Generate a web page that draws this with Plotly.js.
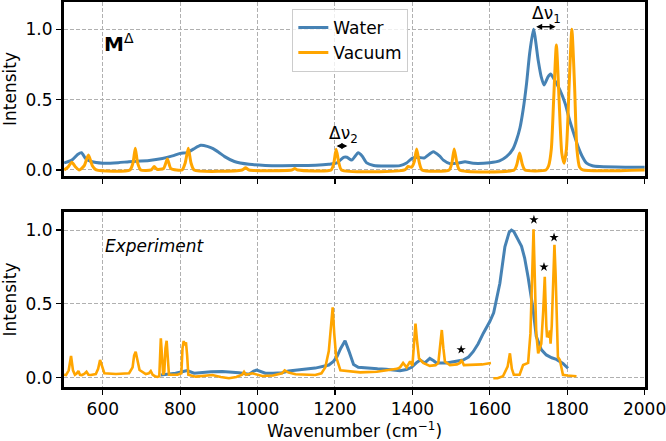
<!DOCTYPE html>
<html>
<head>
<meta charset="utf-8">
<script src="https://cdn.plot.ly/plotly-3.0.1.min.js"></script>
<style>html,body{margin:0;padding:0;background:#fff;}#chart{width:666px;height:441px;}</style>
</head>
<body>
<div id="chart"></div>
<script>
// ---- Top panel (M^Δ simulation) ----
const topWaterX = [500,520,535,545,556,570,600,640,668,720,754,780,800,818,835,853,870,885,900,915,940,978,1020,1098,1150,1184,1205,1222,1231,1243,1260,1270,1282,1300,1330,1368,1385,1400,1415,1430,1454,1470,1480,1497,1520,1536,1557,1600,1625,1643,1660,1669,1678,1686,1695,1703,1713,1725,1733,1740,1750,1757,1765,1781,1795,1806,1818,1828,1840,1850,1865,1884,1950,2000];
const topWaterY = [0.05,0.07,0.11,0.123,0.08,0.06,0.048,0.052,0.059,0.068,0.082,0.1,0.118,0.123,0.15,0.175,0.168,0.152,0.125,0.095,0.06,0.04,0.032,0.031,0.033,0.04,0.05,0.09,0.09,0.07,0.123,0.1,0.05,0.032,0.028,0.031,0.05,0.085,0.09,0.085,0.13,0.1,0.07,0.045,0.05,0.058,0.048,0.052,0.065,0.095,0.15,0.213,0.3,0.426,0.616,0.83,1.0,0.78,0.66,0.604,0.66,0.682,0.65,0.57,0.47,0.355,0.25,0.166,0.09,0.048,0.03,0.024,0.02,0.02];

const topVacX = [500,510,520,530,539,552,563,573,583,670,678,684,690,698,725,733,740,757,767,776,805,813,821,828,836,960,969,978,1088,1096,1104,1190,1197,1203,1210,1217,1380,1389,1398,1405,1411,1418,1425,1495,1502,1508,1515,1522,1663,1670,1677,1684,1691,1745,1752,1759,1765,1772,1779,1786,1792,1798,1805,1812,1819,1825,1832,1840,2000];
const topVacY = [0.0,0.02,0.055,0.02,0.0,0.03,0.107,0.03,0.0,0.0,0.05,0.154,0.05,0.0,0.0,0.024,0.005,0.01,0.078,0.01,0.0,0.05,0.154,0.05,0.0,0.0,0.015,0.0,0.0,0.01,0.0,0.0,0.05,0.147,0.05,0.0,0.0,0.025,0.02,0.06,0.149,0.05,0.0,0.0,0.05,0.149,0.05,0.0,0.0,0.04,0.12,0.04,0.0,0.0,0.03,0.15,0.5,0.888,0.5,0.12,0.048,0.15,0.6,1.0,0.6,0.15,0.02,0.0,0.0];

// ---- Bottom panel (Experiment) ----
const expWaterX = [750,771,788,805,818,836,857,880,909,930,952,978,990,998,1010,1020,1040,1063,1080,1098,1120,1149,1170,1184,1196,1205,1215,1226,1236,1248,1260,1282,1310,1332,1368,1385,1398,1410,1420,1432,1445,1455,1462,1488,1510,1531,1545,1557,1570,1583,1600,1610,1626,1639,1650,1656,1662,1669,1682,1690,1699,1712,1720,1733,1746,1760,1772,1789,1802];
const expWaterY = [0.018,0.023,0.03,0.04,0.048,0.03,0.036,0.04,0.042,0.04,0.034,0.023,0.045,0.052,0.04,0.03,0.03,0.034,0.045,0.052,0.058,0.065,0.075,0.086,0.11,0.142,0.2,0.25,0.18,0.09,0.07,0.064,0.06,0.057,0.047,0.055,0.07,0.1,0.12,0.1,0.131,0.115,0.1,0.1,0.108,0.12,0.14,0.176,0.23,0.3,0.38,0.44,0.64,0.887,0.985,1.0,0.99,0.955,0.89,0.81,0.68,0.46,0.28,0.19,0.154,0.135,0.124,0.097,0.064];

const expVacX = [500,505,512,518,523,528,533,537,541,546,552,558,563,569,582,588,593,598,604,634,668,677,681,685,689,695,711,719,724,729,735,741,746,748,750,753,756,759,762,765,768,771,793,803,806,809,812,815,818,821,840,860,883,905,926,945,960,965,970,986,1000,1012,1040,1063,1070,1080,1098,1120,1149,1165,1175,1184,1190,1194,1198,1203,1214,1244,1265,1308,1342,1360,1368,1376,1385,1394,1400,1404,1408,1412,1417,1428,1445,1460,1467,1471,1476,1480,1484,1497,1515,1523,1527,1533,1557,1580,1603,null,1609,1620,1634,1646,1652,1657,1662,1677,1686,1699,1705,1709,1713,1717,1720,1725,1730,1733,1738,1742,1746,1748,1750,1753,1755,1757,1760,1764,1767,1770,1772,1776,1781,1785,1789,1800,1824];
const expVacY = [0.02,0.018,0.05,0.147,0.05,0.02,0.03,0.045,0.02,0.018,0.025,0.04,0.02,0.018,0.025,0.06,0.12,0.07,0.03,0.025,0.03,0.07,0.15,0.176,0.12,0.052,0.025,0.03,0.045,0.02,0.01,0.005,0.01,0.2,0.267,0.15,0.02,0.04,0.2,0.25,0.15,0.02,0.02,0.03,0.2,0.248,0.22,0.24,0.15,0.02,0.007,0.012,0.018,0.005,-0.004,0.005,0.02,0.04,0.02,0.03,0.02,0.012,0.015,0.03,0.05,0.035,0.023,0.02,0.018,0.03,0.07,0.18,0.35,0.477,0.3,0.14,0.05,0.04,0.036,0.04,0.052,0.06,0.07,0.1,0.07,0.11,0.08,0.2,0.366,0.25,0.13,0.1,0.08,0.085,0.1,0.2,0.323,0.2,0.11,0.085,0.09,0.1,0.12,0.085,0.085,0.09,0.1,null,-0.004,-0.004,0.01,0.075,0.165,0.06,0.02,0.02,0.086,0.1,0.3,0.7,1.005,0.6,0.3,0.165,0.2,0.23,0.45,0.684,0.35,0.273,0.306,0.27,0.32,0.23,0.35,0.7,0.9,0.7,0.52,0.14,0.12,0.06,0.02,0.015,0.01];

const starX = [1526,1714,1740,1766];
const starY = [0.19,1.07,0.75,0.95];

const seriesNames = ['Water','Vacuum'];
const xTickVals = [600,800,1000,1200,1400,1600,1800,2000];
const yTickVals = [0,0.5,1.0];
const yTickText = ['0.0','0.5','1.0'];

const BLUE = '#4682b4', ORANGE = '#ffa500';
const FONT = 'DejaVu Sans, sans-serif';

const traces = [
  {x: topWaterX, y: topWaterY, xaxis:'x', yaxis:'y', type:'scatter', mode:'lines', name: seriesNames[0],
   line:{color:BLUE, width:3, shape:'spline', smoothing:0.6}},
  {x: topVacX, y: topVacY, xaxis:'x', yaxis:'y', type:'scatter', mode:'lines', name: seriesNames[1],
   line:{color:ORANGE, width:3, shape:'spline', smoothing:0.6}},
  {x: expWaterX, y: expWaterY, xaxis:'x2', yaxis:'y2', type:'scatter', mode:'lines', name: seriesNames[0], showlegend:false,
   line:{color:BLUE, width:3}},
  {x: expVacX, y: expVacY, xaxis:'x2', yaxis:'y2', type:'scatter', mode:'lines', name: seriesNames[1], showlegend:false,
   connectgaps:false, line:{color:ORANGE, width:2.6}},
  {x: starX, y: starY, xaxis:'x2', yaxis:'y2', type:'scatter', mode:'markers', showlegend:false, hoverinfo:'skip',
   marker:{symbol:'star', size:7, color:'black'}}
];

function xAxis(showLabels, anchor, title) {
  const a = {
    range:[499.8,2001], tickvals: xTickVals, ticks:'outside', ticklen:5, tickwidth:1.2, tickcolor:'#000',
    showticklabels: showLabels, tickfont:{family:FONT, size:17, color:'#000'}, ticklabeloverflow:'allow',
    showline:true, linecolor:'#000', linewidth:3, mirror:true,
    showgrid:true, gridcolor:'#b0b0b0', gridwidth:1, griddash:'4px,2px', zeroline:false,
    anchor: anchor, automargin:false
  };
  if (title) a.title = {text:title, font:{family:FONT, size:17, color:'#000'}, standoff:6};
  return a;
}
function yAxis(domain, range, anchor) {
  return {
    domain: domain, range: range, tickvals: yTickVals, ticktext: yTickText, ticks:'outside', ticklen:5, tickwidth:1.2, tickcolor:'#000',
    tickfont:{family:FONT, size:17, color:'#000'},
    showline:true, linecolor:'#000', linewidth:3, mirror:true,
    showgrid:true, gridcolor:'#b0b0b0', gridwidth:1, griddash:'4px,2px', zeroline:false,
    anchor: anchor, automargin:false,
    title:{text:'Intensity', font:{family:FONT, size:17, color:'#000'}, standoff:5}
  };
}

const layout = {
  width:666, height:441,
  margin:{l:64, r:21, t:2, b:54},
  paper_bgcolor:'#fff', plot_bgcolor:'#fff',
  font:{family:FONT, color:'#000'},
  xaxis: xAxis(false, 'y', null),
  yaxis: yAxis([0.548,1], [-0.043,1.194], 'x'),
  xaxis2: xAxis(true, 'y2', 'Wavenumber (cm<sup>−1</sup>)'),
  yaxis2: yAxis([0,0.4545], [-0.063,1.122], 'x2'),
  showlegend:true,
  legend:{x:0.393, y:0.982, xanchor:'left', yanchor:'top', bgcolor:'rgba(255,255,255,0.8)',
          bordercolor:'#cccccc', borderwidth:1, font:{family:FONT, size:17, color:'#000'},
          tracegroupgap:0},
  annotations:[
    {xref:'x', yref:'y', x:597, y:0.9, xanchor:'left', yanchor:'middle', showarrow:false,
     text:'<b>M</b><sup>Δ</sup>', font:{family:FONT, size:20, color:'#000'}},
    {xref:'x2', yref:'y2', x:600, y:0.892, xanchor:'left', yanchor:'middle', showarrow:false,
     text:'<i>Experiment</i>', font:{family:FONT, size:17, color:'#000'}},
    {xref:'x', yref:'y', x:1747, y:1.105, showarrow:false, text:'Δν<sub>1</sub>',
     font:{family:FONT, size:17, color:'#000'}},
    {xref:'x', yref:'y', x:1223, y:0.249, showarrow:false, text:'Δν<sub>2</sub>',
     font:{family:FONT, size:17, color:'#000'}},
    {xref:'x', yref:'y', x:1770, y:1.018, axref:'x', ayref:'y', ax:1716, ay:1.018, text:'',
     showarrow:true, arrowhead:2, arrowside:'end+start', arrowsize:0.8, arrowwidth:1.5, arrowcolor:'#000'},
    {xref:'x', yref:'y', x:1232, y:0.17, axref:'x', ayref:'y', ax:1200, ay:0.17, text:'',
     showarrow:true, arrowhead:2, arrowside:'end+start', arrowsize:0.8, arrowwidth:1.5, arrowcolor:'#000'}
  ]
};

Plotly.newPlot('chart', traces, layout, {staticPlot:true, displayModeBar:false});
</script>
</body>
</html>
